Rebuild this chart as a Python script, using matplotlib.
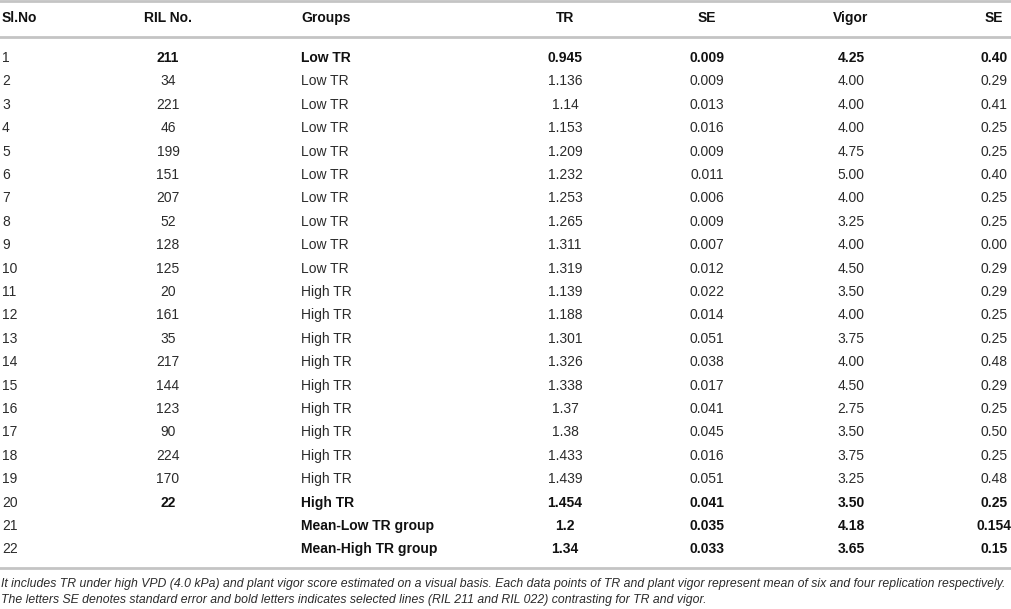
import matplotlib
matplotlib.use("Agg")
from matplotlib import pyplot as plt

# table content
headers = ["Sl.No", "RIL No.", "Groups", "TR", "SE", "Vigor", "SE"]
sl_no = [str(i) for i in range(1, 23)]
ril_no = ["211", "34", "221", "46", "199", "151", "207", "52", "128", "125",
          "20", "161", "35", "217", "144", "123", "90", "224", "170", "22", "", ""]
groups = ["Low TR"] * 10 + ["High TR"] * 10 + ["Mean-Low TR group", "Mean-High TR group"]
tr = ["0.945", "1.136", "1.14", "1.153", "1.209", "1.232", "1.253", "1.265", "1.311", "1.319",
      "1.139", "1.188", "1.301", "1.326", "1.338", "1.37", "1.38", "1.433", "1.439", "1.454",
      "1.2", "1.34"]
tr_se = ["0.009", "0.009", "0.013", "0.016", "0.009", "0.011", "0.006", "0.009", "0.007", "0.012",
         "0.022", "0.014", "0.051", "0.038", "0.017", "0.041", "0.045", "0.016", "0.051", "0.041",
         "0.035", "0.033"]
vigor = ["4.25", "4.00", "4.00", "4.00", "4.75", "5.00", "4.00", "3.25", "4.00", "4.50",
         "3.50", "4.00", "3.75", "4.00", "4.50", "2.75", "3.50", "3.75", "3.25", "3.50",
         "4.18", "3.65"]
vigor_se = ["0.40", "0.29", "0.41", "0.25", "0.25", "0.40", "0.25", "0.25", "0.00", "0.29",
            "0.29", "0.25", "0.25", "0.48", "0.29", "0.25", "0.50", "0.25", "0.48", "0.25",
            "0.154", "0.15"]
bold_rows = [0, 19, 20, 21]  # selected lines and group means
footnote = [
    "It includes TR under high VPD (4.0 kPa) and plant vigor score estimated on a visual basis. "
    "Each data points of TR and plant vigor represent mean of six and four replication respectively.",
    "The letters SE denotes standard error and bold letters indicates selected lines "
    "(RIL 211 and RIL 022) contrasting for TR and vigor.",
]

plt.rcParams['font.family'] = ['Liberation Sans', 'DejaVu Sans']

W, H = 1012, 609
fig = plt.figure(figsize=(W / 100, H / 100), dpi=100)
ax = fig.add_axes([0, 0, 1, 1])
ax.set_xlim(0, W)
ax.set_ylim(H, 0)
ax.axis('off')

# column x positions and alignment
col_x = [2, 168, 301, 565, 707, 851, 994]
col_ha = ['left', 'center', 'left', 'center', 'center', 'center', 'center']
header_y = 18
row_y0, row_step = 58, 23.4
text_color = '#2b2b2b'
line_color = '#c4c4c4'

for x, ha, h in zip(col_x, col_ha, headers):
    ax.text(x, header_y, h, ha=ha, va='center', fontsize=10, fontweight='bold', color='#111111')

columns = [sl_no, ril_no, groups, tr, tr_se, vigor, vigor_se]
for i in range(len(sl_no)):
    y = row_y0 + i * row_step
    for j, (x, ha, col) in enumerate(zip(col_x, col_ha, columns)):
        bold = i in bold_rows and j > 0
        ax.text(x, y, col[i], ha=ha, va='center', fontsize=10,
                fontweight='bold' if bold else 'normal',
                color='#111111' if bold else text_color)

for y in [1, 37, 568]:
    ax.axhline(y, color=line_color, lw=2)

# footnote, first line stretched to the page width
fn1 = ax.text(1, 584, footnote[0], ha='left', va='center', fontsize=8, style='italic', color=text_color)
fig.canvas.draw()
width = fn1.get_window_extent().width
size = 8 * 1008 / width
fn1.set_fontsize(size)
ax.text(1, 600, footnote[1], ha='left', va='center', fontsize=size, style='italic', color=text_color)

plt.savefig('out.png', dpi=100)
